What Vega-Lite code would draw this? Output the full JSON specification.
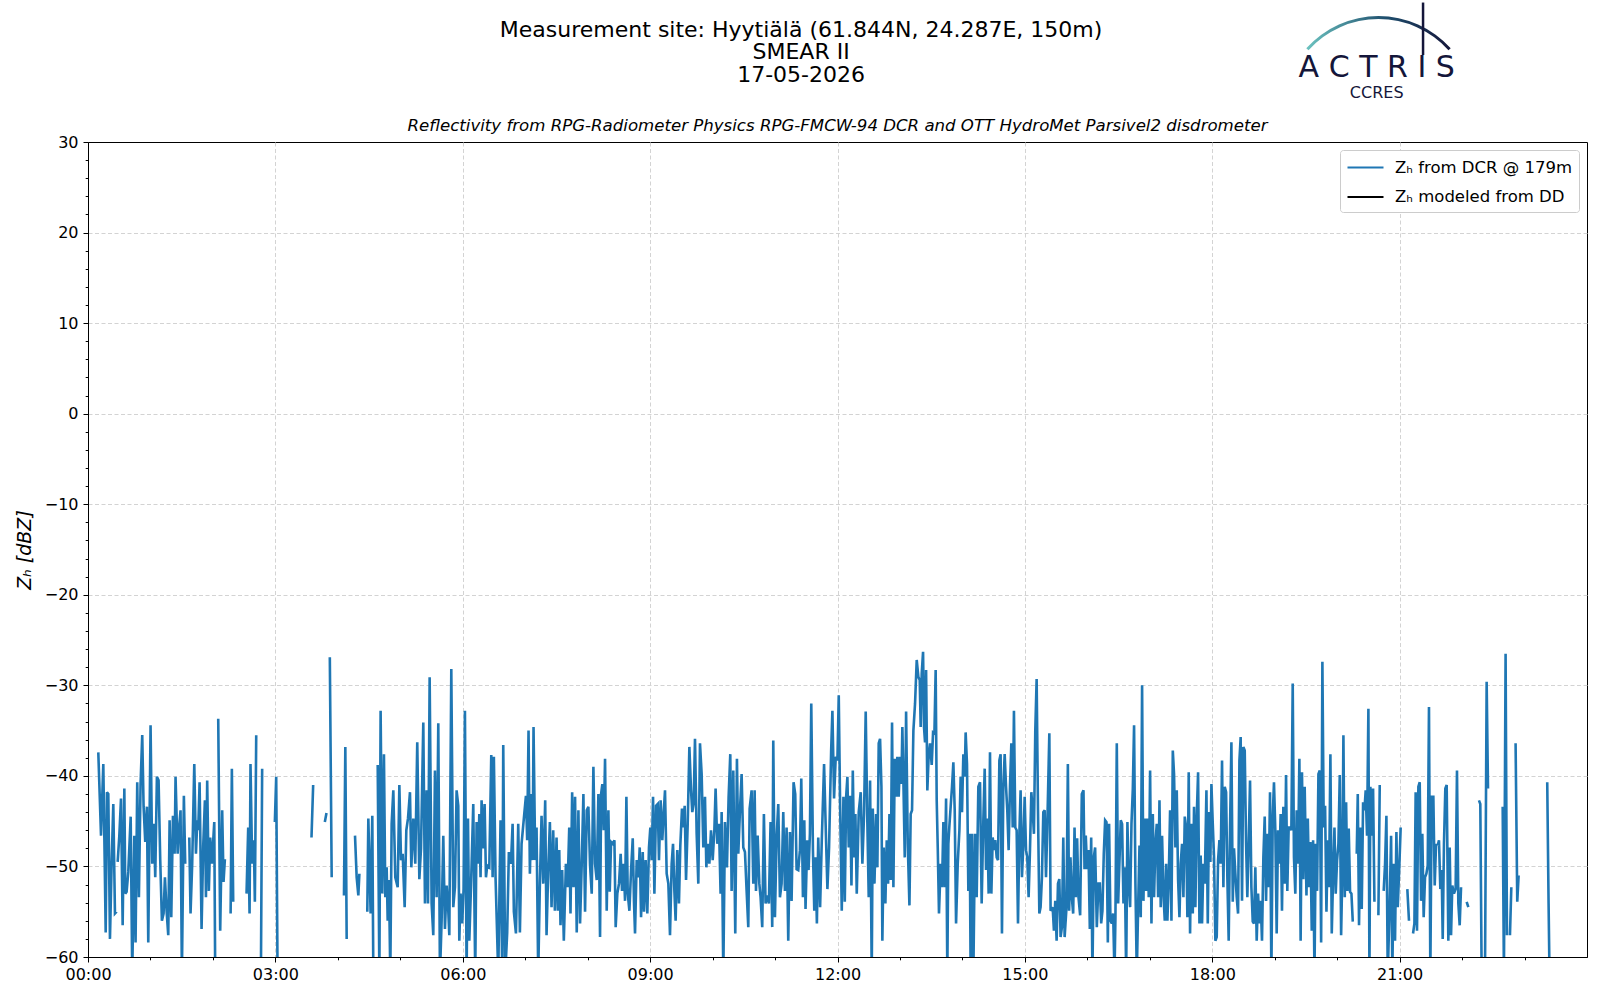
{
  "$schema": "https://vega.github.io/schema/vega-lite/v6.json",
  "autosize": {"type": "none"},
  "width": 1499,
  "height": 815,
  "padding": {"left": 88, "top": 142, "right": 13, "bottom": 43},
  "background": "white",
  "layer": [
    {
      "data": {"values": [
        {"t":9.9,"z":-37.4},{"t":12.5,"z":-46.6},{"t":14.7,"z":-38.7},{"t":15.7,"z":-46.8},{"t":17.0,"z":-57.3},{"t":18.2,"z":-41.8},{"t":19.5,"z":-42.0},{"t":21.1,"z":-58.0},{"t":22.7,"z":-49.7},{"t":24.3,"z":-43.1},{"t":25.9,"z":-55.2},{"t":27.5,"z":-55.0},{"t":28.0,"z":null},{"t":28.5,"z":-49.5},{"t":30.1,"z":-46.6},{"t":31.7,"z":-42.5},{"t":33.3,"z":-56.5},{"t":34.9,"z":-41.4},{"t":35.8,"z":-53.0},{"t":37.1,"z":-52.8},{"t":38.7,"z":-50.6},{"t":41.0,"z":-44.5},{"t":42.5,"z":-62},{"t":44.5,"z":-46.6},{"t":45.7,"z":-58.4},{"t":47.3,"z":-40.7},{"t":48.9,"z":-53.4},{"t":50.5,"z":-40.9},{"t":52.1,"z":-35.5},{"t":53.4,"z":-43.4},{"t":55.0,"z":-47.3},{"t":56.6,"z":-43.4},{"t":57.9,"z":-58.4},{"t":60.1,"z":-34.4},{"t":61.7,"z":-49.7},{"t":63.3,"z":-45.3},{"t":64.6,"z":-51.2},{"t":66.2,"z":-40.1},{"t":67.8,"z":-40.5},{"t":69.4,"z":-49.3},{"t":71.0,"z":-56.0},{"t":72.6,"z":-55.2},{"t":73.9,"z":-51.2},{"t":75.5,"z":-54.9},{"t":77.1,"z":-57.6},{"t":78.4,"z":-44.9},{"t":80.0,"z":-55.6},{"t":81.6,"z":-44.4},{"t":83.2,"z":-48.6},{"t":84.1,"z":-40.1},{"t":86.1,"z":-48.6},{"t":87.3,"z":-46.0},{"t":88.9,"z":-43.8},{"t":90.2,"z":-62},{"t":92.1,"z":-42.2},{"t":93.4,"z":-49.7},{"t":94.5,"z":null},{"t":97.3,"z":-46.8},{"t":98.5,"z":-55.2},{"t":100.1,"z":-49.7},{"t":102.1,"z":-38.7},{"t":103.7,"z":-48.6},{"t":105.0,"z":-44.9},{"t":105.9,"z":-46.0},{"t":107.2,"z":-40.7},{"t":109.1,"z":-56.9},{"t":110.7,"z":-47.7},{"t":112.3,"z":-42.7},{"t":113.3,"z":-53.4},{"t":114.5,"z":-40.5},{"t":116.1,"z":-52.7},{"t":117.4,"z":-46.8},{"t":119.0,"z":-49.7},{"t":121.3,"z":-45.1},{"t":122.2,"z":-62},{"t":123.5,"z":null},{"t":125.1,"z":-33.7},{"t":127.0,"z":-57.1},{"t":128.9,"z":-43.8},{"t":130.2,"z":-51.7},{"t":131.5,"z":-49.2},{"t":133.5,"z":null},{"t":137.0,"z":-55.2},{"t":138.2,"z":-39.2},{"t":139.5,"z":-53.9},{"t":142,"z":null},{"t":152.3,"z":-53.0},{"t":153.9,"z":-45.7},{"t":155.2,"z":-55.2},{"t":156.1,"z":-38.7},{"t":157.7,"z":-49.7},{"t":159.3,"z":-47.1},{"t":160.3,"z":-53.9},{"t":161.6,"z":-35.5},{"t":163.5,"z":null},{"t":166.1,"z":-62},{"t":167.3,"z":-39.2},{"t":170,"z":null},{"t":179.5,"z":-45.1},{"t":180.8,"z":-40.1},{"t":182.1,"z":-62},{"t":185,"z":null},{"t":214.7,"z":-46.8},{"t":216.3,"z":-41.0},{"t":220,"z":null},{"t":227.5,"z":-45.1},{"t":229.1,"z":-44.1},{"t":230.5,"z":null},{"t":232.3,"z":-26.9},{"t":234.1,"z":-51.2},{"t":236,"z":null},
        {"t":245.9,"z":-53.2},{"t":247.2,"z":-36.8},{"t":248.5,"z":-58.0},{"t":251,"z":null},{"t":256.5,"z":-46.6},{"t":258.1,"z":-51.2},{"t":259.7,"z":-53.2},{"t":260.7,"z":-50.8},{"t":263,"z":null},{"t":268.3,"z":-55.0},{"t":269.3,"z":-44.7},{"t":271.5,"z":-55.2},{"t":273.1,"z":-44.4},{"t":274.1,"z":-62},{"t":276,"z":null},{"t":278.3,"z":-38.8},{"t":279.9,"z":-62},{"t":281.1,"z":-32.8},{"t":282.7,"z":-53.0},{"t":284.3,"z":-37.6},{"t":285.6,"z":-53.4},{"t":286.9,"z":-50.1},{"t":287.9,"z":-56.0},{"t":289.1,"z":-51.5},{"t":290.4,"z":-62},{"t":291.7,"z":-45.3},{"t":293.3,"z":-41.6},{"t":295.2,"z":-51.2},{"t":297.5,"z":-52.3},{"t":299.1,"z":-41.0},{"t":300.7,"z":-49.3},{"t":302.3,"z":-48.6},{"t":304.2,"z":-54.5},{"t":305.8,"z":-46.0},{"t":307.4,"z":-44.7},{"t":309.3,"z":-41.8},{"t":310.6,"z":-50.1},{"t":312.5,"z":-44.7},{"t":314.4,"z":-49.7},{"t":316.3,"z":-36.3},{"t":318.3,"z":-51.4},{"t":319.9,"z":-48.0},{"t":322.1,"z":-34.1},{"t":323.7,"z":-54.1},{"t":325.3,"z":-41.6},{"t":326.6,"z":-54.1},{"t":328.2,"z":-29.1},{"t":330.1,"z":-54.1},{"t":331.7,"z":-57.6},{"t":333.3,"z":-39.4},{"t":334.9,"z":-53.4},{"t":336.5,"z":-34.2},{"t":338.1,"z":-62},{"t":339.7,"z":-56.0},{"t":341.3,"z":-46.6},{"t":342.9,"z":-56.9},{"t":344.5,"z":-52.1},{"t":346.1,"z":-54.9},{"t":347.1,"z":-57.6},{"t":349.0,"z":-28.2},{"t":350.9,"z":-54.5},{"t":352.5,"z":-52.3},{"t":354.1,"z":-41.6},{"t":355.7,"z":-43.3},{"t":356.7,"z":-58.2},{"t":357.9,"z":-53.0},{"t":359.5,"z":-56.3},{"t":360.8,"z":-52.5},{"t":362.1,"z":-32.8},{"t":363.7,"z":-62},{"t":365.0,"z":-44.7},{"t":366.3,"z":-58.2},{"t":367.9,"z":-52.3},{"t":370.1,"z":-43.1},{"t":372.0,"z":-62},{"t":373.3,"z":-45.1},{"t":374.9,"z":-49.7},{"t":375.9,"z":-44.2},{"t":377.1,"z":-51.2},{"t":378.1,"z":-42.7},{"t":379.7,"z":-48.0},{"t":381.0,"z":-43.1},{"t":382.3,"z":-51.2},{"t":383.5,"z":-49.9},{"t":385.5,"z":-50.1},{"t":387.4,"z":-37.7},{"t":388.7,"z":-51.2},{"t":389.9,"z":-37.9},{"t":391.5,"z":-51.2},{"t":394.1,"z":-62},{"t":396.3,"z":-44.9},{"t":397.9,"z":-62},{"t":398.9,"z":-36.6},{"t":400.8,"z":-62},{"t":402.7,"z":-57.3},{"t":404.3,"z":-48.4},{"t":406.3,"z":-49.7},{"t":407.9,"z":-45.3},{"t":409.1,"z":-55.0},{"t":411.1,"z":-57.4},{"t":413.3,"z":-45.3},{"t":414.9,"z":-57.3},{"t":416.5,"z":-47.5},{"t":419.1,"z":-44.2},{"t":420.7,"z":-42.2},{"t":421.9,"z":-47.1},{"t":423.2,"z":-35.0},{"t":424.5,"z":-50.8},{"t":426.1,"z":-42.0},{"t":427.1,"z":-49.3},{"t":428.0,"z":-34.6},{"t":429.6,"z":-49.3},{"t":430.9,"z":-45.7},{"t":432.5,"z":-62},{"t":434.1,"z":-51.9},{"t":435.7,"z":-44.4},{"t":437.3,"z":-51.9},{"t":439.2,"z":-42.7},{"t":440.5,"z":-57.6},{"t":442.1,"z":-50.4},{"t":443.7,"z":-45.1},{"t":445.3,"z":-54.5},{"t":446.9,"z":-46.0},{"t":448.5,"z":-54.9},{"t":450.1,"z":-46.8},{"t":451.4,"z":-54.9},{"t":452.7,"z":-48.2},{"t":453.9,"z":-56.5},{"t":455.5,"z":-50.4},{"t":457.1,"z":-58.2},{"t":459.1,"z":-49.7},{"t":460.7,"z":-52.3},{"t":462.3,"z":-45.7},{"t":463.5,"z":-55.2},{"t":465.1,"z":-41.8},{"t":466.4,"z":-52.3},
        {"t":467.9,"z":-42.3},{"t":469.5,"z":-57.3},{"t":471.1,"z":-43.8},{"t":472.7,"z":-56.3},{"t":474.3,"z":-49.7},{"t":475.9,"z":-42.0},{"t":477.5,"z":-55.0},{"t":479.1,"z":-43.8},{"t":480.7,"z":-43.4},{"t":482.3,"z":-49.9},{"t":483.9,"z":-53.0},{"t":485.5,"z":-39.0},{"t":487.1,"z":-49.7},{"t":488.7,"z":-51.5},{"t":490.3,"z":-42.0},{"t":491.9,"z":-57.8},{"t":492.9,"z":-42.0},{"t":494.1,"z":-40.9},{"t":495.4,"z":-46.0},{"t":496.7,"z":-38.1},{"t":498.3,"z":-54.9},{"t":499.9,"z":-43.8},{"t":501.2,"z":-52.8},{"t":502.5,"z":-47.3},{"t":504.1,"z":-47.5},{"t":505.7,"z":-47.1},{"t":506.9,"z":-56.7},{"t":508.5,"z":-53.0},{"t":510.1,"z":-51.9},{"t":511.7,"z":-48.6},{"t":513.0,"z":-52.7},{"t":514.6,"z":-49.7},{"t":515.9,"z":-53.8},{"t":517.2,"z":-42.3},{"t":518.5,"z":-53.0},{"t":520.1,"z":-54.9},{"t":521.7,"z":-50.4},{"t":523.3,"z":-46.9},{"t":524.5,"z":-53.9},{"t":525.5,"z":-57.4},{"t":527.1,"z":-49.3},{"t":528.7,"z":-51.2},{"t":530.0,"z":-47.9},{"t":531.3,"z":-55.6},{"t":532.9,"z":-48.4},{"t":534.1,"z":-55.0},{"t":535.7,"z":-49.3},{"t":537.3,"z":-55.2},{"t":538.9,"z":-47.9},{"t":540.2,"z":-45.7},{"t":541.5,"z":-49.3},{"t":542.8,"z":-42.3},{"t":544.1,"z":-53.0},{"t":545.7,"z":-43.3},{"t":547.3,"z":-43.1},{"t":548.5,"z":-49.3},{"t":550.1,"z":-42.7},{"t":551.7,"z":-47.1},{"t":553.0,"z":-44.2},{"t":554.3,"z":-41.6},{"t":555.9,"z":-50.8},{"t":557.5,"z":-51.9},{"t":559.1,"z":-57.6},{"t":560.7,"z":-49.7},{"t":562.0,"z":-47.5},{"t":563.3,"z":-52.7},{"t":564.5,"z":-56.0},{"t":566.1,"z":-48.2},{"t":567.7,"z":-54.1},{"t":569.0,"z":-47.7},{"t":570.6,"z":-43.6},{"t":571.9,"z":-45.7},{"t":573.2,"z":-43.3},{"t":574.5,"z":-51.5},{"t":576.1,"z":-45.3},{"t":577.7,"z":-36.8},{"t":579.3,"z":-41.6},{"t":580.5,"z":-44.0},{"t":581.8,"z":-43.1},{"t":583.1,"z":-35.9},{"t":584.7,"z":-46.4},{"t":586.3,"z":-51.9},{"t":587.9,"z":-36.4},{"t":589.5,"z":-39.8},{"t":591.1,"z":-47.9},{"t":592.7,"z":-42.3},{"t":594.0,"z":-50.1},{"t":595.3,"z":-47.5},{"t":596.9,"z":-49.7},{"t":598.5,"z":-46.0},{"t":600.1,"z":-49.3},{"t":601.7,"z":-46.0},{"t":602.9,"z":-41.4},{"t":604.5,"z":-47.5},{"t":606.1,"z":-45.3},{"t":607.7,"z":-53.0},{"t":608.7,"z":-44.0},{"t":610.3,"z":-62},{"t":611.9,"z":-45.1},{"t":613.8,"z":-50.1},{"t":615.4,"z":-42.3},{"t":617.0,"z":-37.6},{"t":618.3,"z":-52.7},{"t":619.9,"z":-39.4},{"t":621.8,"z":-57.4},{"t":623.4,"z":-38.1},{"t":624.7,"z":-48.6},{"t":626.3,"z":-43.8},{"t":627.9,"z":-39.8},{"t":629.5,"z":-47.9},{"t":631.1,"z":-48.4},{"t":632.7,"z":-52.7},{"t":634.3,"z":-56.7},{"t":635.6,"z":-43.6},{"t":637.5,"z":-41.6},{"t":639.1,"z":-51.9},{"t":640.4,"z":-41.6},{"t":641.7,"z":-52.7},{"t":643.3,"z":-46.6},{"t":644.9,"z":-51.9},{"t":646.1,"z":-53.4},{"t":647.7,"z":-56.7},{"t":649.3,"z":-44.2},{"t":650.9,"z":-54.1},{"t":652.5,"z":-53.2},{"t":654.1,"z":-54.1},{"t":655.7,"z":-45.1},{"t":657.3,"z":-56.7},{"t":658.3,"z":-36.1},{"t":659.9,"z":-55.6},{"t":661.5,"z":-46.8},{"t":663.1,"z":-43.1},{"t":664.7,"z":-53.4},{"t":666.3,"z":-51.9},{"t":667.9,"z":-44.0},{"t":669.5,"z":-52.7},{"t":671.1,"z":-45.7},{"t":672.7,"z":-58.2},{"t":674.3,"z":-46.2},{"t":675.9,"z":-53.8},{"t":677.8,"z":-40.7},{"t":679.4,"z":-42.0},{"t":680.7,"z":-50.3},{"t":682.3,"z":-50.4},{"t":683.9,"z":-48.2},{"t":685.2,"z":-40.3},{"t":686.8,"z":-53.4},{"t":688.1,"z":-44.9},{"t":689.3,"z":-54.7},{"t":690.9,"z":-47.1},{"t":692.2,"z":-50.4},{"t":693.5,"z":-46.4},{"t":694.8,"z":-32.0},{"t":696.4,"z":-48.2},{"t":697.7,"z":-54.9},{"t":698.9,"z":-49.0},{"t":700.2,"z":-56.3},{"t":701.5,"z":-46.8},
        {"t":703.3,"z":-54.5},{"t":704.9,"z":-47.1},{"t":707.1,"z":-38.7},{"t":709.1,"z":-47.5},{"t":710.3,"z":-52.5},{"t":711.9,"z":-47.9},{"t":713.9,"z":-37.2},{"t":715.1,"z":-32.8},{"t":716.7,"z":-42.5},{"t":718.3,"z":-37.9},{"t":719.9,"z":-38.3},{"t":721.2,"z":-31.1},{"t":722.5,"z":-43.1},{"t":724.1,"z":-54.9},{"t":725.7,"z":-42.3},{"t":727.0,"z":-53.9},{"t":728.3,"z":-42.3},{"t":729.5,"z":-40.1},{"t":730.8,"z":-47.9},{"t":732.1,"z":-42.2},{"t":733.4,"z":-52.1},{"t":734.7,"z":-39.4},{"t":736.0,"z":-49.0},{"t":737.2,"z":-44.2},{"t":738.5,"z":-53.0},{"t":740.4,"z":-44.0},{"t":742.3,"z":-41.8},{"t":743.9,"z":-49.7},{"t":745.5,"z":-44.2},{"t":747.1,"z":-32.9},{"t":748.7,"z":-45.3},{"t":750.0,"z":-53.4},{"t":751.3,"z":-40.5},{"t":752.9,"z":-62},{"t":753.9,"z":-43.6},{"t":755.5,"z":-51.9},{"t":757.1,"z":-44.2},{"t":758.3,"z":-50.1},{"t":759.6,"z":-36.4},{"t":760.9,"z":-35.9},{"t":762.2,"z":-41.2},{"t":763.1,"z":-58.2},{"t":764.4,"z":-47.9},{"t":766.0,"z":-54.1},{"t":767.3,"z":-47.1},{"t":768.6,"z":-51.9},{"t":769.9,"z":-44.2},{"t":771.1,"z":-51.5},{"t":772.4,"z":-34.1},{"t":773.7,"z":-52.3},{"t":775.0,"z":-38.1},{"t":776.3,"z":-42.3},{"t":777.5,"z":-37.9},{"t":778.8,"z":-42.3},{"t":780.1,"z":-37.9},{"t":781.4,"z":-40.9},{"t":782.3,"z":-34.6},{"t":783.3,"z":-40.5},{"t":784.6,"z":-49.0},{"t":785.9,"z":-32.9},{"t":787.5,"z":-47.5},{"t":789.1,"z":-54.3},{"t":790.3,"z":-44.2},{"t":791.6,"z":-43.8},{"t":792.9,"z":-35.0},{"t":794.5,"z":-32.0},{"t":796.1,"z":-27.2},{"t":797.7,"z":-29.1},{"t":799.0,"z":-29.4},{"t":799.9,"z":-34.6},{"t":800.9,"z":-28.7},{"t":802.2,"z":-26.3},{"t":803.1,"z":-34.6},{"t":804.1,"z":-36.3},{"t":805.1,"z":-28.3},{"t":806.3,"z":-41.6},{"t":807.6,"z":-37.7},{"t":808.9,"z":-36.4},{"t":810.5,"z":-38.8},{"t":811.8,"z":-35.2},{"t":813.1,"z":-35.3},{"t":814.3,"z":-28.3},{"t":815.3,"z":-42.7},{"t":816.3,"z":-47.9},{"t":817.5,"z":-55.2},{"t":819.1,"z":-49.7},{"t":820.4,"z":-52.3},{"t":821.7,"z":-45.1},{"t":823.0,"z":-52.3},{"t":824.3,"z":-42.5},{"t":825.5,"z":-62},{"t":826.5,"z":-47.5},{"t":827.5,"z":-45.5},{"t":828.7,"z":-43.4},{"t":830.0,"z":-41.2},{"t":831.3,"z":-38.5},{"t":832.6,"z":-43.8},{"t":833.9,"z":-56.3},{"t":835.5,"z":-49.7},{"t":837.1,"z":-46.0},{"t":838.3,"z":-40.1},{"t":839.6,"z":-44.0},{"t":840.9,"z":-37.6},{"t":842.2,"z":-40.1},{"t":843.1,"z":-35.2},{"t":844.4,"z":-38.7},{"t":845.7,"z":-52.7},{"t":847.0,"z":-46.4},{"t":847.9,"z":-62},{"t":849.2,"z":-46.4},{"t":850.5,"z":-62},{"t":852.1,"z":-46.4},{"t":853.7,"z":-53.4},{"t":855.3,"z":-41.2},{"t":856.9,"z":-40.7},{"t":858.5,"z":-54.1},{"t":860.1,"z":-44.9},{"t":861.4,"z":-39.2},{"t":862.7,"z":-50.4},{"t":863.9,"z":-44.7},{"t":865.2,"z":-53.0},{"t":866.5,"z":-37.4},{"t":867.8,"z":-53.0},{"t":869.1,"z":-46.8},{"t":870.3,"z":-48.2},{"t":871.6,"z":-47.1},{"t":872.9,"z":-49.0},{"t":874.2,"z":-49.3},{"t":875.5,"z":-38.3},{"t":876.7,"z":-37.6},{"t":878.0,"z":-57.4},{"t":879.3,"z":-41.2},{"t":880.6,"z":-37.6},{"t":881.9,"z":-41.2},{"t":883.1,"z":-43.8},{"t":884.4,"z":-48.2},{"t":885.7,"z":-41.2},{"t":887.0,"z":-36.4},{"t":888.3,"z":-45.7},{"t":889.5,"z":-32.8},{"t":890.8,"z":-45.7},{"t":892.1,"z":-46.0},{"t":893.4,"z":-56.3},{"t":894.7,"z":-46.4},{"t":895.9,"z":-41.6},{"t":897.2,"z":-51.2},{"t":898.5,"z":-47.7},{"t":899.8,"z":-42.3},{"t":901.1,"z":-48.2},{"t":902.3,"z":-49.0},{"t":903.6,"z":-53.4},{"t":904.9,"z":-48.2},{"t":906.2,"z":-41.8},{"t":907.5,"z":-43.8},{"t":908.7,"z":-46.4},{"t":910.0,"z":-35.0},{"t":911.3,"z":-29.3},{"t":912.6,"z":-43.8},{"t":913.9,"z":-55.2},{"t":915.1,"z":-54.5},{"t":916.4,"z":-51.2},{"t":917.7,"z":-44.0},{"t":919.0,"z":-43.8},{"t":920.3,"z":-51.2},{"t":921.5,"z":-45.7},{"t":923.5,"z":-35.3},{"t":924.7,"z":-54.9},{"t":926.7,"z":-54.5},{"t":927.9,"z":-57.1},{"t":929.2,"z":-53.8},{"t":930.5,"z":-58.2},{"t":931.8,"z":-51.9},{"t":933.1,"z":-51.4},{"t":934.3,"z":-57.8},{"t":935.6,"z":-56.7},{"t":936.9,"z":-46.8},{"t":938.2,"z":-57.8},
        {"t":940.0,"z":-54.5},{"t":941.3,"z":-38.7},{"t":942.5,"z":-54.9},{"t":943.8,"z":-49.0},{"t":945.1,"z":-53.4},{"t":946.4,"z":-55.2},{"t":947.7,"z":-45.7},{"t":948.9,"z":-53.4},{"t":950.2,"z":-46.9},{"t":951.5,"z":-53.4},{"t":953.1,"z":-55.4},{"t":954.7,"z":-42.0},{"t":956.3,"z":-41.6},{"t":957.3,"z":-50.3},{"t":958.5,"z":-46.6},{"t":959.8,"z":-50.3},{"t":961.1,"z":-48.2},{"t":962.4,"z":-56.9},{"t":963.7,"z":-46.8},{"t":964.9,"z":-62},{"t":966.2,"z":-49.0},{"t":967.5,"z":-47.9},{"t":969.1,"z":-56.7},{"t":970.7,"z":-51.9},{"t":972.0,"z":-51.9},{"t":973.3,"z":-56.3},{"t":974.5,"z":-54.9},{"t":975.8,"z":-48.6},{"t":977.1,"z":-44.9},{"t":978.4,"z":-45.1},{"t":979.7,"z":-58.4},{"t":980.9,"z":-45.3},{"t":982.2,"z":-56.0},{"t":983.5,"z":-56.3},{"t":984.8,"z":-55.2},{"t":986.1,"z":-62},{"t":987.0,"z":-55.6},{"t":988.3,"z":-36.4},{"t":989.6,"z":-54.1},{"t":990.9,"z":-49.3},{"t":992.1,"z":-44.9},{"t":993.4,"z":-45.3},{"t":994.7,"z":-54.1},{"t":996.0,"z":-50.1},{"t":997.3,"z":-62},{"t":998.5,"z":-45.1},{"t":999.8,"z":-51.9},{"t":1001.1,"z":-54.5},{"t":1002.4,"z":-45.3},{"t":1003.7,"z":-41.4},{"t":1004.9,"z":-34.4},{"t":1006.2,"z":-51.9},{"t":1007.5,"z":-62},{"t":1008.8,"z":-54.5},{"t":1010.1,"z":-47.7},{"t":1011.3,"z":-55.6},{"t":1012.6,"z":-30.0},{"t":1013.9,"z":-53.8},{"t":1015.2,"z":-44.7},{"t":1016.5,"z":-52.7},{"t":1017.7,"z":-44.7},{"t":1019.0,"z":-53.4},{"t":1020.3,"z":-39.4},{"t":1021.6,"z":-56.3},{"t":1022.9,"z":-44.2},{"t":1024.1,"z":-53.4},{"t":1025.4,"z":-47.5},{"t":1026.7,"z":-45.3},{"t":1028.0,"z":-53.4},{"t":1029.3,"z":-42.7},{"t":1030.5,"z":-54.5},{"t":1031.8,"z":-46.6},{"t":1033.1,"z":-53.0},{"t":1034.4,"z":-56.0},{"t":1035.7,"z":-49.7},{"t":1036.9,"z":-56.0},{"t":1038.2,"z":-51.4},{"t":1039.5,"z":-43.8},{"t":1040.8,"z":-56.0},{"t":1042.1,"z":-37.2},{"t":1043.3,"z":-39.8},{"t":1044.6,"z":-47.9},{"t":1045.9,"z":-41.6},{"t":1047.2,"z":-51.5},{"t":1048.5,"z":-55.6},{"t":1049.7,"z":-49.7},{"t":1051.0,"z":-47.5},{"t":1052.3,"z":-53.4},{"t":1053.6,"z":-44.5},{"t":1054.9,"z":-45.7},{"t":1056.1,"z":-55.6},{"t":1057.4,"z":-39.6},{"t":1058.7,"z":-57.4},{"t":1060.0,"z":-45.3},{"t":1061.3,"z":-55.2},{"t":1062.5,"z":-43.4},{"t":1063.8,"z":-54.5},{"t":1065.1,"z":-44.5},{"t":1066.4,"z":-39.6},{"t":1067.7,"z":-56.3},{"t":1068.9,"z":-48.8},{"t":1070.2,"z":-56.3},{"t":1071.5,"z":-49.7},{"t":1072.8,"z":-51.9},{"t":1074.4,"z":-41.6},{"t":1075.7,"z":-56.3},{"t":1076.9,"z":-44.0},{"t":1078.2,"z":-49.5},{"t":1079.2,"z":-40.9},{"t":1080.5,"z":-45.3},{"t":1081.7,"z":-49.0},{"t":1083.0,"z":-58.2},{"t":1084.3,"z":-57.8},{"t":1085.6,"z":-49.3},{"t":1086.9,"z":-47.1},{"t":1088.1,"z":-49.7},{"t":1089.4,"z":-38.3},{"t":1090.7,"z":-52.3},{"t":1092.0,"z":-41.2},{"t":1093.3,"z":-41.8},{"t":1094.5,"z":-51.2},{"t":1095.8,"z":-58.2},{"t":1097.1,"z":-45.7},{"t":1098.4,"z":-36.3},{"t":1099.7,"z":-53.9},{"t":1100.9,"z":-48.0},{"t":1102.2,"z":-50.8},{"t":1103.5,"z":-53.4},{"t":1104.8,"z":-55.2},{"t":1106.1,"z":-38.3},{"t":1107.3,"z":-35.7},{"t":1108.6,"z":-53.8},{"t":1109.9,"z":-36.8},{"t":1111.2,"z":-37.2},{"t":1112.5,"z":-47.5},{"t":1113.7,"z":-53.4},{"t":1115.0,"z":-47.5},{"t":1116.3,"z":-40.5},{"t":1117.6,"z":-52.3},{"t":1118.9,"z":-56.1},{"t":1120.1,"z":-56.3},{"t":1121.4,"z":-50.1},{"t":1122.7,"z":-58.2},{"t":1124.0,"z":-53.0},{"t":1125.3,"z":-56.3},{"t":1126.5,"z":-53.8},{"t":1127.8,"z":-58.2},{"t":1129.1,"z":-49.0},{"t":1130.4,"z":-44.5},{"t":1131.7,"z":-53.8},{"t":1132.9,"z":-46.4},{"t":1134.2,"z":-52.3},{"t":1135.5,"z":-41.8},{"t":1136.8,"z":-62},{"t":1138.1,"z":-44.5},{"t":1139.3,"z":-40.7},{"t":1140.6,"z":-46.0},{"t":1141.9,"z":-57.4},{"t":1143.2,"z":-46.0},{"t":1144.5,"z":-49.7},{"t":1145.7,"z":-44.2},{"t":1147.0,"z":-54.9},{"t":1148.3,"z":-43.4},{"t":1149.6,"z":-51.9},{"t":1150.9,"z":-39.9},{"t":1152.1,"z":-52.7},{"t":1153.4,"z":-45.7},{"t":1154.7,"z":-45.7},{"t":1156.0,"z":-46.0},{"t":1157.3,"z":-29.8},{"t":1158.5,"z":-49.0},{"t":1159.8,"z":-53.0},{"t":1161.1,"z":-43.8},{"t":1162.4,"z":-49.7},{"t":1163.7,"z":-38.1},{"t":1164.9,"z":-58.2},{"t":1166.2,"z":-39.6},{"t":1167.5,"z":-51.4},{"t":1168.8,"z":-41.2},
        {"t":1170.5,"z":-53.2},{"t":1171.8,"z":-44.7},{"t":1173.0,"z":-52.3},{"t":1174.3,"z":-47.3},{"t":1175.6,"z":-57.1},{"t":1176.9,"z":-47.1},{"t":1178.2,"z":-62},{"t":1179.4,"z":-47.5},{"t":1180.7,"z":-52.7},{"t":1182.0,"z":-39.8},{"t":1183.3,"z":-39.4},{"t":1184.6,"z":-58.4},{"t":1185.8,"z":-27.4},{"t":1187.1,"z":-45.7},{"t":1188.4,"z":-43.3},{"t":1189.7,"z":-55.0},{"t":1191.0,"z":-47.1},{"t":1192.2,"z":-52.3},{"t":1193.5,"z":-37.6},{"t":1194.8,"z":-57.4},{"t":1196.1,"z":-51.0},{"t":1197.4,"z":-45.7},{"t":1198.6,"z":-53.0},{"t":1199.9,"z":-49.3},{"t":1201.2,"z":-47.5},{"t":1202.5,"z":-39.9},{"t":1203.8,"z":-57.6},{"t":1205.0,"z":-50.3},{"t":1206.0,"z":-35.5},{"t":1207.3,"z":-53.4},{"t":1208.6,"z":-42.9},{"t":1209.8,"z":-52.7},{"t":1211.1,"z":-45.8},{"t":1212.4,"z":-52.8},{"t":1213.7,"z":-53.0},{"t":1215.0,"z":-56.1},{"t":1216.5,"z":null},{"t":1218.8,"z":-48.6},{"t":1219.8,"z":-42.0},{"t":1221.0,"z":-56.5},{"t":1222.3,"z":-45.7},{"t":1223.6,"z":-54.7},{"t":1224.9,"z":-42.9},{"t":1226.2,"z":-43.8},{"t":1227.4,"z":-41.6},{"t":1228.7,"z":-46.6},{"t":1230.0,"z":-32.6},{"t":1231.0,"z":-62},{"t":1231.9,"z":-41.2},{"t":1233.2,"z":-46.6},{"t":1234.5,"z":-41.4},{"t":1235.8,"z":-53.9},{"t":1237,"z":null},{"t":1239.6,"z":-55.4},{"t":1240.9,"z":-41.0},{"t":1242,"z":null},{"t":1244.7,"z":-52.7},{"t":1246.0,"z":-49.7},{"t":1247.3,"z":-44.4},{"t":1248.6,"z":-62},{"t":1250.5,"z":-53.8},{"t":1251.8,"z":-46.6},{"t":1253.0,"z":-62},{"t":1254.3,"z":-49.7},{"t":1255.6,"z":-58.2},{"t":1256.9,"z":-46.2},{"t":1258.2,"z":-54.5},{"t":1259.8,"z":-49.7},{"t":1261.0,"z":-45.7},{"t":1263,"z":null},{"t":1267.4,"z":-52.5},{"t":1269.0,"z":-56.0},{"t":1271,"z":null},{"t":1272.9,"z":-57.4},{"t":1274.2,"z":-56.3},{"t":1275.4,"z":-41.8},{"t":1276.7,"z":-57.1},{"t":1278.0,"z":-41.2},{"t":1279.3,"z":-40.7},{"t":1280.6,"z":-53.8},{"t":1281.8,"z":-46.4},{"t":1283.1,"z":-55.6},{"t":1284.4,"z":-51.2},{"t":1285.7,"z":-50.8},{"t":1287.0,"z":-49.9},{"t":1288.2,"z":-32.4},{"t":1289.5,"z":-62},{"t":1290.8,"z":-42.3},{"t":1292.4,"z":-42.3},{"t":1293.7,"z":-52.1},{"t":1295.0,"z":-47.5},{"t":1296.0,"z":null},{"t":1296.6,"z":-47.7},{"t":1297.8,"z":-47.1},{"t":1299.1,"z":-52.5},{"t":1300.4,"z":-50.4},{"t":1301.4,"z":-58.0},{"t":1302.6,"z":-47.5},{"t":1303.9,"z":-41.4},{"t":1305.2,"z":-41.0},{"t":1306.8,"z":-58.2},{"t":1308.1,"z":-47.9},{"t":1309.4,"z":-57.6},{"t":1310.6,"z":-52.1},{"t":1312.2,"z":-53.0},{"t":1313.8,"z":-52.5},{"t":1315.1,"z":-39.4},{"t":1316.4,"z":-54.1},{"t":1317.7,"z":-56.5},{"t":1319.0,"z":-52.3},{"t":1320.5,"z":null},{"t":1324.4,"z":-53.9},{"t":1326.0,"z":-54.5},{"t":1328,"z":null},{"t":1336.2,"z":-42.7},{"t":1337.5,"z":-43.1},{"t":1338.8,"z":-62},{"t":1342.0,"z":-62},{"t":1343.6,"z":-29.6},{"t":1344.9,"z":-41.4},{"t":1346,"z":null},{"t":1359.0,"z":-43.4},{"t":1360.2,"z":-62},{"t":1361.8,"z":-26.5},{"t":1363.1,"z":-57.6},{"t":1364.5,"z":null},{"t":1366.0,"z":-57.6},{"t":1367.3,"z":-52.3},{"t":1368.5,"z":null},{"t":1371.4,"z":-36.4},{"t":1373.0,"z":-53.9},{"t":1374.3,"z":-51.0},{"t":1376,"z":null},{"t":1401.8,"z":-40.7},{"t":1403.1,"z":-54.1},{"t":1404.0,"z":-62}
      ]},
      "mark": {"type": "line", "clip": true, "strokeWidth": 2.6, "strokeJoin": "miter", "strokeMiterLimit": 3},
      "encoding": {
        "x": {
          "field": "t",
          "type": "quantitative",
          "scale": {"domain": [0, 1440], "nice": false, "zero": false},
          "axis": {
            "title": null,
            "values": [0,60,120,180,240,300,360,420,480,540,600,660,720,780,840,900,960,1020,1080,1140,1200,1260,1320,1380],
            "tickCount": 100,
            "labelExpr": "datum.value % 180 === 0 ? (datum.value < 600 ? '0' : '') + (datum.value / 60) + ':00' : ''",
            "labelOverlap": false,
            "labelFlush": false,
            "labelPadding": 4,
            "gridOpacity": {"condition": {"test": "datum.value % 180 === 0 && datum.value > 0", "value": 1}, "value": 0},
            "tickSize": {"condition": {"test": "datum.value % 180 === 0", "value": 5}, "value": 2.8}
          }
        },
        "y": {
          "field": "z",
          "type": "quantitative",
          "scale": {"domain": [-60, 30], "nice": false, "zero": false},
          "axis": {
            "title": "Zₕ [dBZ]",
            "titleFontStyle": "italic",
            "titleFontWeight": "normal",
            "titleFontSize": 19,
            "titlePadding": 10,
            "values": [-60,-58,-56,-54,-52,-50,-48,-46,-44,-42,-40,-38,-36,-34,-32,-30,-28,-26,-24,-22,-20,-18,-16,-14,-12,-10,-8,-6,-4,-2,0,2,4,6,8,10,12,14,16,18,20,22,24,26,28,30],
            "tickCount": 100,
            "labelExpr": "datum.value % 10 === 0 ? datum.label : ''",
            "labelOverlap": false,
            "labelFlush": false,
            "labelPadding": 5,
            "gridOpacity": {"condition": {"test": "datum.value % 10 === 0 && datum.value > -60 && datum.value < 30", "value": 1}, "value": 0},
            "tickSize": {"condition": {"test": "datum.value % 10 === 0", "value": 5}, "value": 2.8}
          }
        },
        "color": {
          "datum": "Zₕ from DCR @ 179m",
          "type": "nominal",
          "scale": {"domain": ["Zₕ from DCR @ 179m", "Zₕ modeled from DD"], "range": ["#1f77b4", "#000000"]},
          "legend": {
            "title": null,
            "orient": "top-right",
            "offset": 8,
            "padding": 6,
            "fillColor": "white",
            "strokeColor": "#cccccc",
            "cornerRadius": 3,
            "symbolType": "M-1,0H2.6",
            "symbolStrokeWidth": 2.2,
            "symbolSize": 400,
            "labelFontSize": 16.5,
            "labelColor": "#000",
            "labelLimit": 400,
            "rowPadding": 9.5,
            "labelOffset": 26
          }
        }
      }
    },
    {
      "data": {"values": [{"label": "Reflectivity from RPG-Radiometer Physics RPG-FMCW-94 DCR and OTT HydroMet Parsivel2 disdrometer"}]},
      "mark": {"type": "text", "fontStyle": "italic", "fontSize": 16.6, "baseline": "alphabetic", "align": "center", "color": "#000"},
      "encoding": {
        "x": {"datum": 720, "type": "quantitative"},
        "y": {"datum": 31.2, "type": "quantitative"},
        "text": {"field": "label"}
      }
    },
    {
      "data": {"values": [{"line1": "Measurement site: Hyytiälä (61.844N, 24.287E, 150m)"}]},
      "mark": {"type": "text", "fontSize": 22, "baseline": "top", "align": "center", "color": "#000", "lineHeight": 22.5},
      "encoding": {
        "x": {"datum": 685, "type": "quantitative"},
        "y": {"datum": 43.5, "type": "quantitative"},
        "text": {"value": ["Measurement site: Hyytiälä (61.844N, 24.287E, 150m)", "SMEAR II", "17-05-2026"]}
      }
    },
    {
      "data": {"values": [{"label": "logo"}]},
      "mark": {"type": "arc", "radius": 97, "radius2": 94, "theta": -0.84, "theta2": 0.84, "color": {"gradient": "linear", "x1": 0, "x2": 1, "y1": 0, "y2": 0, "stops": [{"offset": 0, "color": "#6cc3c0"}, {"offset": 0.55, "color": "#1f4f6e"}, {"offset": 1, "color": "#14163a"}]}},
      "encoding": {
        "x": {"datum": 1239.7, "type": "quantitative"},
        "y": {"datum": 33.2, "type": "quantitative"}
      }
    },
    {
      "data": {"values": [{"label": "logo"}]},
      "mark": {"type": "rule", "strokeWidth": 2.5, "color": "#14163a"},
      "encoding": {
        "x": {"datum": 1282.5, "type": "quantitative"},
        "y": {"datum": 45.4, "type": "quantitative"},
        "y2": {"datum": 39.6}
      }
    },
    {
      "data": {"values": [{"label": "A C T R I S"}]},
      "mark": {"type": "text", "fontSize": 30, "baseline": "alphabetic", "align": "center", "color": "#14163a"},
      "encoding": {
        "x": {"datum": 1238, "type": "quantitative"},
        "y": {"datum": 37.2, "type": "quantitative"},
        "text": {"field": "label"}
      }
    },
    {
      "data": {"values": [{"label": "CCRES"}]},
      "mark": {"type": "text", "fontSize": 16, "baseline": "alphabetic", "align": "center", "color": "#14163a"},
      "encoding": {
        "x": {"datum": 1238, "type": "quantitative"},
        "y": {"datum": 34.9, "type": "quantitative"},
        "text": {"field": "label"}
      }
    }
  ],
  "config": {
    "font": "DejaVu Sans",
    "view": {"stroke": "#000000", "strokeWidth": 1},
    "axis": {
      "labelFont": "DejaVu Sans",
      "titleFont": "DejaVu Sans",
      "labelFontSize": 16,
      "labelColor": "#000",
      "titleColor": "#000",
      "domainColor": "#000",
      "tickColor": "#000",
      "grid": true,
      "gridColor": "#d3d3d3",
      "gridDash": [4, 2.5],
      "gridWidth": 1
    },
    "legend": {"labelFont": "DejaVu Sans"}
  }
}
